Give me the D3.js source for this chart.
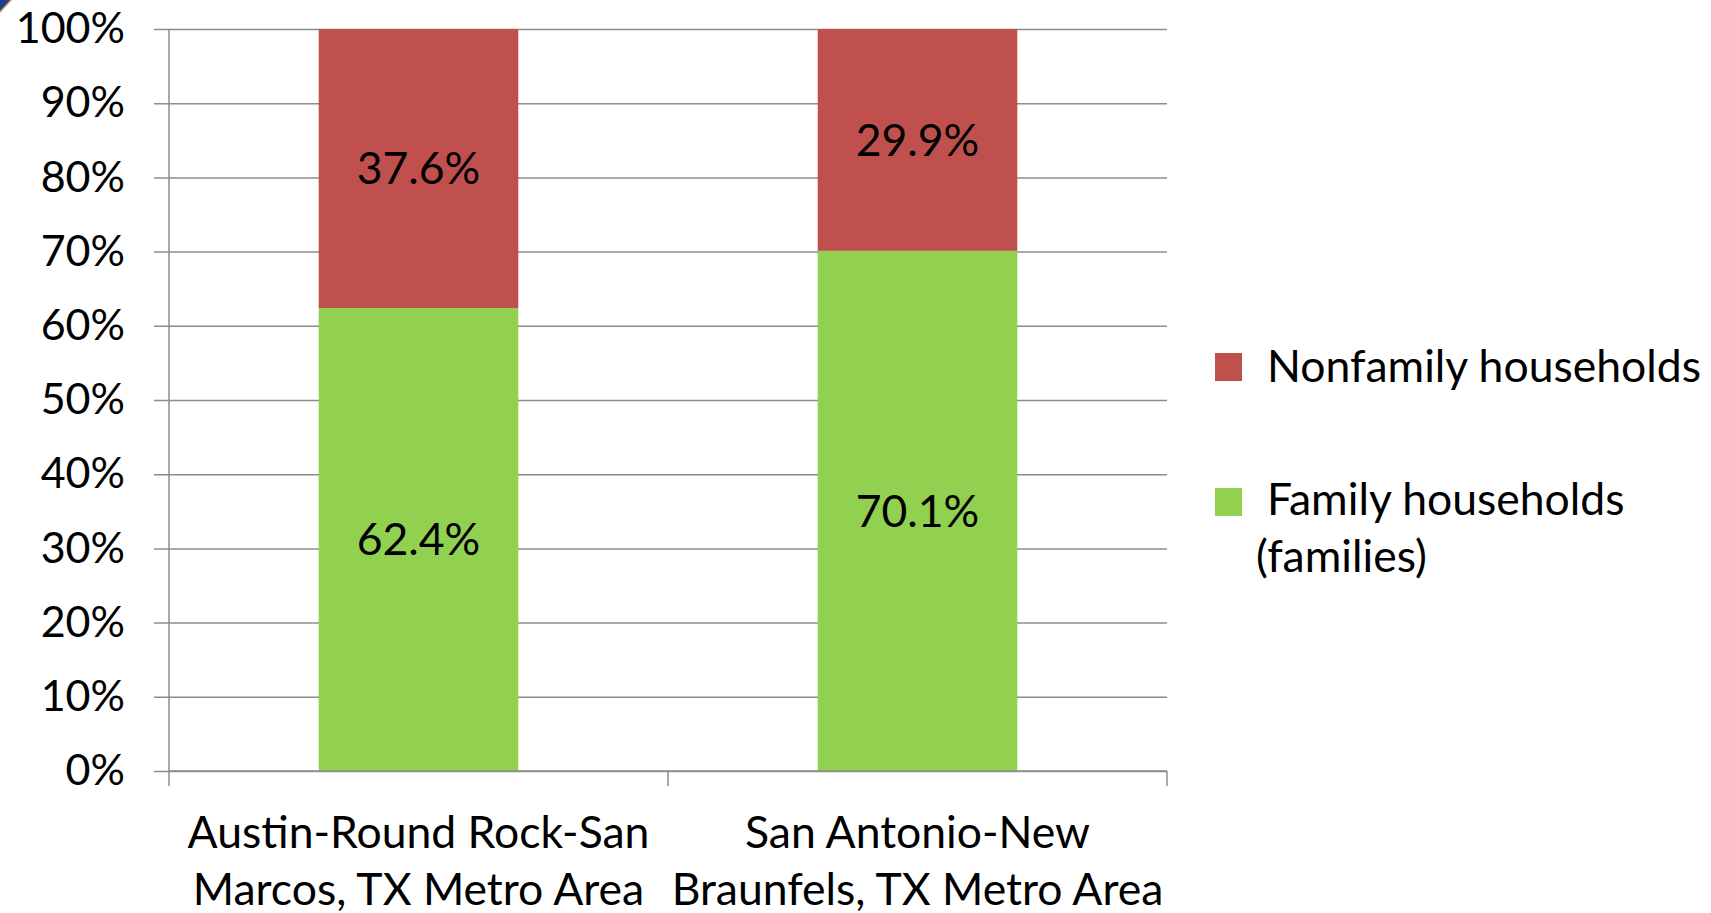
<!DOCTYPE html>
<html>
<head>
<meta charset="utf-8">
<script src="https://cdn.jsdelivr.net/npm/d3@7"></script>
<style>
  body { margin: 0; background: #fff; }
  text { font-family: Lato, "Open Sans", sans-serif; fill: #000; }
</style>
</head>
<body>
<svg id="chart"></svg>
<script>
// data
let categories = ["Austin-Round Rock-San Marcos, TX Metro Area", "San Antonio-New Braunfels, TX Metro Area"];
let familyValues = [62.4, 70.1];
let nonfamilyValues = [37.6, 29.9];
let seriesNames = ["Nonfamily households", "Family households (families)"];
let yTicks = [0, 10, 20, 30, 40, 50, 60, 70, 80, 90, 100];

let chartWidth = 1711;
let chartHeight = 913;
let margin = {top: 29, left: 169, right: 544, bottom: 142};
let plotWidth = chartWidth - margin.left - margin.right;
let plotHeight = chartHeight - margin.top - margin.bottom;
let fontSize = "44.5px";

let svg = d3.select("#chart")
    .attr("width", chartWidth)
    .attr("height", chartHeight);

// little slide corner in the top left
svg.append("path").attr("d", "M0,0 L12,0 L0,13 Z").attr("fill", "#c9a13a");
svg.append("path").attr("d", "M0,0 L10,0 L0,11 Z").attr("fill", "#1f3d8f");

let g = svg.append("g")
    .attr("transform", "translate(" + margin.left + "," + margin.top + ")");

let y = d3.scaleLinear()
    .domain([0, 100])
    .range([plotHeight, 0]);

let xCat = d3.scaleBand()
    .domain(categories)
    .range([0, plotWidth])
    .padding(0);

let barWidth = xCat.bandwidth() * 0.4;

// gridlines + y labels
let yAxis = g.append("g")
    .attr("class", "axis")
    .call(d3.axisLeft(y)
        .tickValues(yTicks)
        .tickFormat(d => d + "%")
        .tickSize(-plotWidth)
        .tickPadding(44));
yAxis.select(".domain").remove();
yAxis.selectAll(".tick line")
    .attr("x1", -15)
    .attr("stroke", "#8c8c8c")
    .attr("stroke-width", 1.5);
yAxis.selectAll(".tick text")
    .attr("font-size", "43px")
    .attr("font-family", "Lato, sans-serif")
    .attr("fill", "#000");

// stacked bars
let rows = categories.map((c, i) => ({cat: c, family: familyValues[i], nonfamily: nonfamilyValues[i]}));

g.selectAll(".bar-family")
    .data(rows)
    .enter().append("rect")
    .attr("class", "bar-family")
    .attr("x", d => xCat(d.cat) + (xCat.bandwidth() - barWidth) / 2)
    .attr("width", barWidth)
    .attr("y", d => y(d.family))
    .attr("height", d => y(0) - y(d.family))
    .attr("fill", "#92d050");

g.selectAll(".bar-nonfamily")
    .data(rows)
    .enter().append("rect")
    .attr("class", "bar-nonfamily")
    .attr("x", d => xCat(d.cat) + (xCat.bandwidth() - barWidth) / 2)
    .attr("width", barWidth)
    .attr("y", d => y(d.family + d.nonfamily))
    .attr("height", d => y(d.family) - y(d.family + d.nonfamily))
    .attr("fill", "#c0504d");

// value labels
g.selectAll(".lbl-family")
    .data(rows)
    .enter().append("text")
    .attr("x", d => xCat(d.cat) + xCat.bandwidth() / 2)
    .attr("y", d => y(d.family / 2))
    .attr("dy", "0.35em")
    .attr("text-anchor", "middle")
    .attr("font-size", fontSize)
    .text(d => d.family.toFixed(1) + "%");

g.selectAll(".lbl-nonfamily")
    .data(rows)
    .enter().append("text")
    .attr("x", d => xCat(d.cat) + xCat.bandwidth() / 2)
    .attr("y", d => y(d.family + d.nonfamily / 2))
    .attr("dy", "0.35em")
    .attr("text-anchor", "middle")
    .attr("font-size", fontSize)
    .text(d => d.nonfamily.toFixed(1) + "%");

// x axis: line along the bottom, ticks between categories
let xAxisG = g.append("g")
    .attr("transform", "translate(0," + plotHeight + ")");
xAxisG.append("line")
    .attr("x1", 0).attr("x2", plotWidth)
    .attr("stroke", "#8c8c8c").attr("stroke-width", 1.5);
xAxisG.append("line")
    .attr("x1", 0).attr("x2", 0).attr("y1", -plotHeight).attr("y2", 15)
    .attr("stroke", "#8c8c8c").attr("stroke-width", 1.5);
xAxisG.selectAll(".xtick")
    .data(categories)
    .enter().append("line")
    .attr("x1", d => xCat(d) + xCat.bandwidth())
    .attr("x2", d => xCat(d) + xCat.bandwidth())
    .attr("y1", 0).attr("y2", 15)
    .attr("stroke", "#8c8c8c").attr("stroke-width", 1.5);

let catLabels = xAxisG.selectAll(".xlabel")
    .data(categories)
    .enter().append("text")
    .attr("class", "xlabel")
    .attr("text-anchor", "middle")
    .attr("font-size", fontSize)
    .attr("x", d => xCat(d) + xCat.bandwidth() / 2)
    .attr("y", 77);

catLabels.each(function(d) {
    let el = d3.select(this);
    let words = d.split(" ");
    let lines = [[]];
    let probe = el.append("tspan");
    words.forEach(w => {
        let cur = lines[lines.length - 1];
        probe.text(cur.concat([w]).join(" "));
        if (probe.node().getComputedTextLength() > 520 && cur.length) {
            lines.push([w]);
        } else {
            cur.push(w);
        }
    });
    probe.remove();
    lines.forEach((ln, i) => {
        el.append("tspan")
            .attr("x", xCat(d) + xCat.bandwidth() / 2)
            .attr("dy", i === 0 ? 0 : 57)
            .text(ln.join(" "));
    });
});

// legend
let legend = svg.append("g").attr("transform", "translate(1215,0)");
let legendColors = ["#c0504d", "#92d050"];
let legendY = [353, 488];

legend.selectAll("rect")
    .data(seriesNames)
    .enter().append("rect")
    .attr("x", 0)
    .attr("y", (d, i) => legendY[i])
    .attr("width", 27)
    .attr("height", 28)
    .attr("fill", (d, i) => legendColors[i]);

legend.append("text")
    .attr("x", 52).attr("y", 382)
    .attr("font-size", fontSize)
    .text("Nonfamily households");

let famText = legend.append("text")
    .attr("font-size", fontSize);
famText.append("tspan").attr("x", 52).attr("y", 515).text("Family households");
famText.append("tspan").attr("x", 41).attr("y", 572).text("(families)");
</script>
</body>
</html>
